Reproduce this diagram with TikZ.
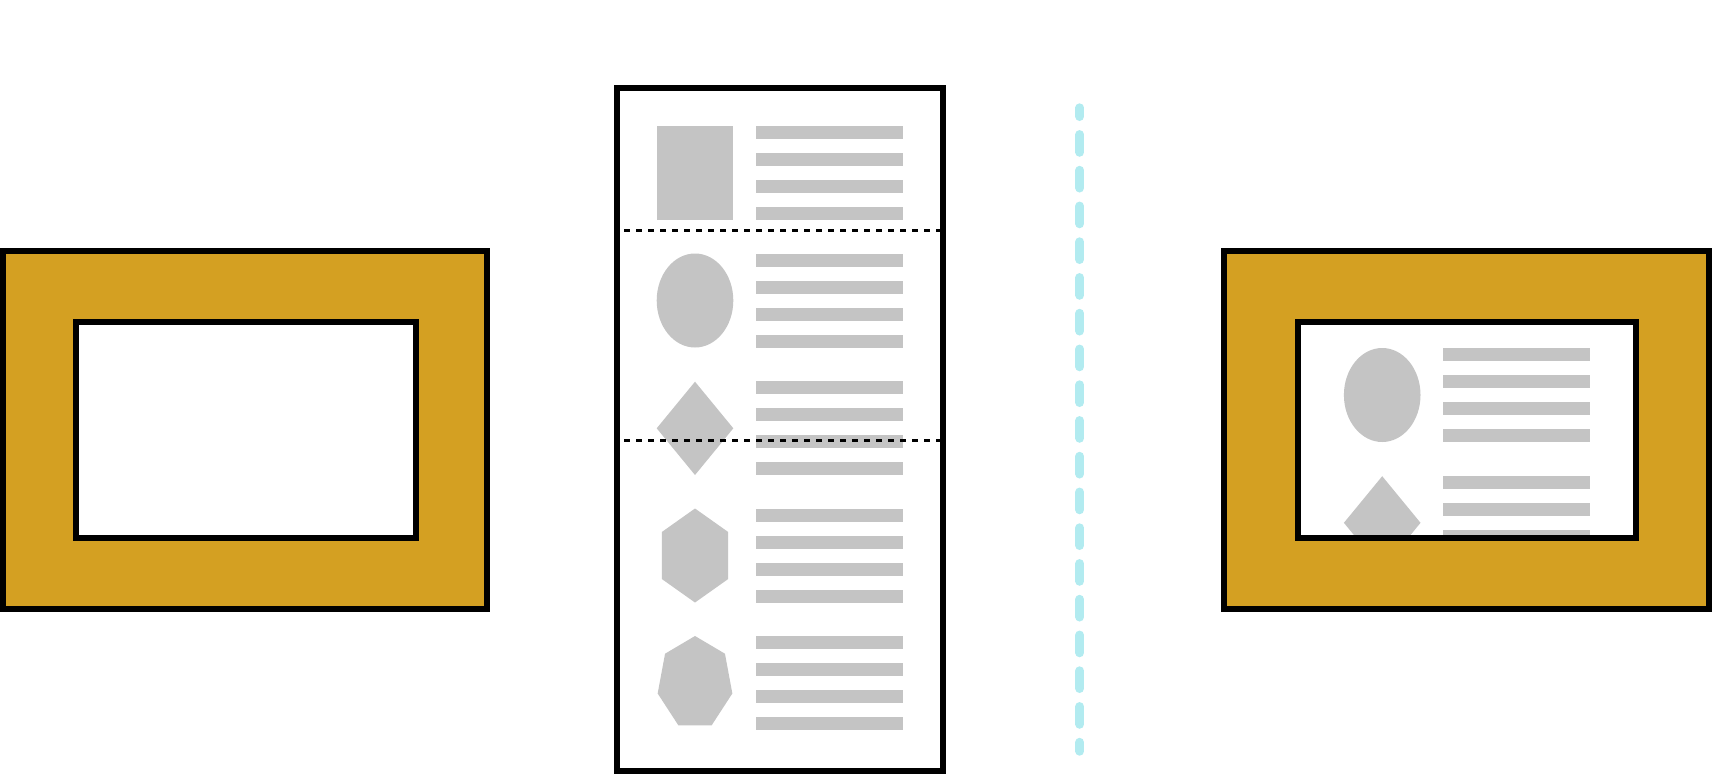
\documentclass[tikz,border=0pt]{standalone}
\usetikzlibrary{calc}
\definecolor{gold}{RGB}{212,160,34}
\definecolor{shapegray}{RGB}{196,196,196}
\definecolor{guide}{RGB}{178,235,240}
\tikzset{
  frameline/.style={line width=6pt, draw=black},
  grayfill/.style={fill=shapegray, draw=none},
  sepline/.style={draw=black, line width=3pt, dash pattern=on 6pt off 6pt},
  guideline/.style={draw=guide, line width=9pt, line cap=round, dash pattern=on 17.7pt off 18.05pt, dash phase=9pt},
  barset/.pic={\foreach \j in {0,...,3}{\fill[shapegray] (0,27*\j) rectangle ++(147,13);}}
}
\begin{document}
\begin{tikzpicture}[x=1pt,y=-1pt]
\useasboundingbox (0,0) rectangle (1712,774);
% left frame
\draw[frameline, fill=gold] (3,251.3) rectangle (487,608.7);
\draw[frameline, fill=white] (76.3,322.3) rectangle (415.7,538.3);
% tall document
\draw[frameline, fill=white] (616.5,88) rectangle (943,770.5);
% group 1: rectangle
\fill[grayfill] (656.7,126) rectangle (733.3,220);
\pic at (756,126) {barset};
% group 2: ellipse
\fill[grayfill] (695,300.5) ellipse [x radius=38.3, y radius=47];
\pic at (756,253.5) {barset};
% group 3: diamond
\fill[grayfill] (695,381.7) -- (733.3,428.3) -- (695,475) -- (656.7,428.3) -- cycle;
\pic at (756,381) {barset};
% group 4: hexagon
\fill[grayfill] (695,555.5) ++(90:38.3 and 47)
  \foreach \a in {150,210,270,330,30}{ -- ($(695,555.5)+(\a:38.3 and 47)$)} -- cycle;
\pic at (756,508.5) {barset};
% group 5: heptagon (y axis points down, so -90 is the top)
\fill[grayfill] (695,683) ++(-90:38.3 and 47)
  \foreach \i in {1,...,6}{ -- ($(695,683)+({-90+360/7*\i}:38.3 and 47)$)} -- cycle;
\pic at (756,636) {barset};
% separators
\draw[sepline] (624,230.2) -- (941,230.2);
\draw[sepline] (624,440.7) -- (941,440.7);
% guide
\coordinate (gtop) at (1079.8,107.8);
\coordinate (gbot) at (1079.8,751.2);
\draw[guideline] (gtop) -- (gbot);
% right frame
\draw[frameline, fill=gold] (1224,251.3) rectangle (1709,608.7);
\fill[white] (1297.7,322.3) rectangle (1636.3,538.3);
\begin{scope}
  \clip (1297.7,322.3) rectangle (1636.3,538.3);
  \fill[grayfill] (1382.2,395) ellipse [x radius=38.3, y radius=47];
  \pic at (1443,347.7) {barset};
  \fill[grayfill] (1382.2,476.2) -- (1420.5,522.8) -- (1382.2,569.5) -- (1343.9,522.8) -- cycle;
  \pic at (1443,475.5) {barset};
\end{scope}
\draw[frameline] (1297.7,322.3) rectangle (1636.3,538.3);
\end{tikzpicture}
\end{document}
